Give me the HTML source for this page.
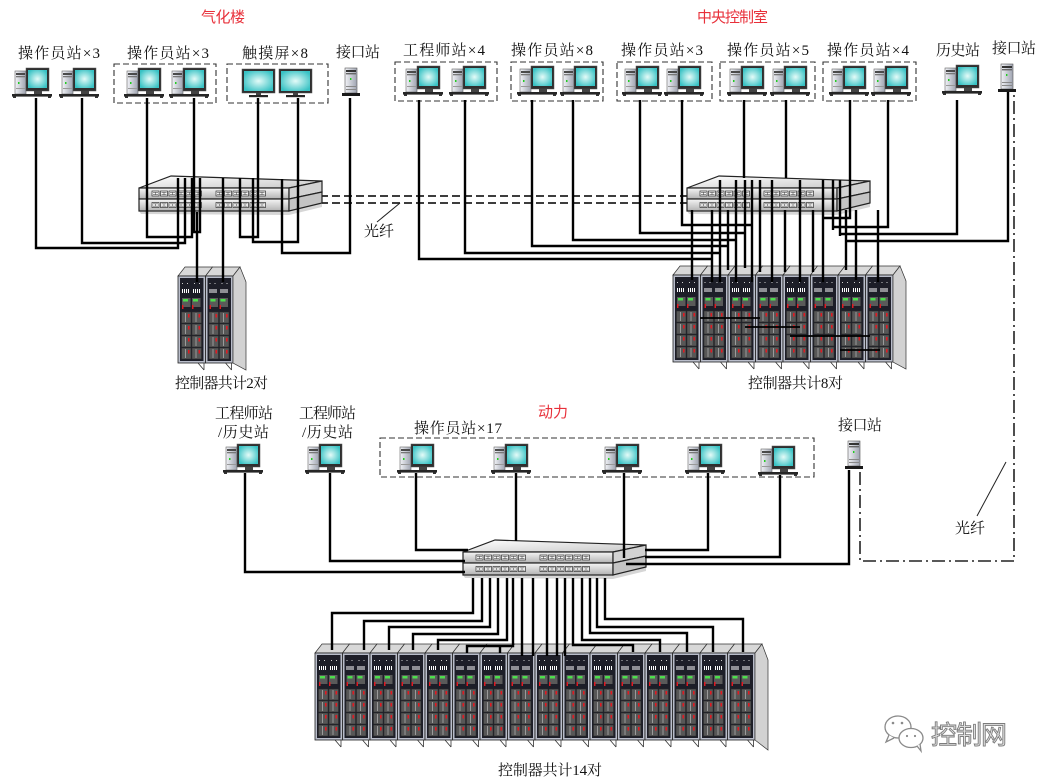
<!DOCTYPE html>
<html><head><meta charset="utf-8"><style>
html,body{margin:0;padding:0;background:#fff;}
svg{display:block;}
.lb{font-family:"Liberation Serif","Noto Serif CJK SC",serif;font-size:15px;fill:#111;}
.rd{font-family:"Liberation Sans","Noto Sans CJK SC",sans-serif;font-size:15px;fill:#e8303a;}
.ln{fill:none;stroke:#000;stroke-width:2.4;}
.db{fill:none;stroke:#333;stroke-width:1.1;stroke-dasharray:6 3;}
</style></head><body>
<svg width="1042" height="780" viewBox="0 0 1042 780" xmlns="http://www.w3.org/2000/svg">
<defs>
<linearGradient id="tw" x1="0" y1="0" x2="1" y2="0"><stop offset="0" stop-color="#f2f3f7"/><stop offset="1" stop-color="#9ea3b0"/></linearGradient>
<radialGradient id="scr" cx="0.5" cy="0.5" r="0.6"><stop offset="0" stop-color="#e4fbf8"/><stop offset="1" stop-color="#38c2c4"/></radialGradient>
<linearGradient id="swf" x1="0" y1="0" x2="0" y2="1"><stop offset="0" stop-color="#f6f6f6"/><stop offset="1" stop-color="#b2b2b2"/></linearGradient>
<linearGradient id="swt" x1="0" y1="0" x2="1" y2="1"><stop offset="0" stop-color="#ffffff"/><stop offset="1" stop-color="#c8c8c8"/></linearGradient>
<g id="pc">
 <rect x="3" y="4" width="11" height="23" fill="url(#tw)" stroke="#666" stroke-width=".6"/>
 <rect x="4" y="6" width="9" height="2" fill="#4a4a4a"/>
 <rect x="4" y="9" width="9" height="1.3" fill="#777"/>
 <rect x="6" y="15" width="1.5" height="2" fill="#2c2"/>
 <rect x="4" y="21" width="9" height="1" fill="#999"/>
 <rect x="14" y="1" width="23" height="23" fill="#2f2f2f" stroke="#555" stroke-width=".5"/>
 <rect x="16" y="3" width="19" height="18" fill="url(#scr)"/>
 <rect x="22" y="24" width="8" height="3" fill="#444"/>
 <rect x="0" y="27" width="40" height="2.6" fill="#262626"/>
 <rect x="1" y="29.5" width="3" height="1.5" fill="#333"/>
 <rect x="36" y="29.5" width="3" height="1.5" fill="#333"/>
</g>
<g id="ts">
 <rect x="0" y="0" width="33" height="24" fill="#2f2f2f" stroke="#555" stroke-width=".5"/>
 <rect x="2" y="2" width="29" height="20" fill="url(#scr)"/>
 <rect x="14" y="24" width="5" height="2" fill="#444"/>
 <rect x="7" y="26" width="19" height="2.2" fill="#262626"/>
</g>
<g id="srv">
 <rect x="3" y="0" width="12" height="25" fill="url(#tw)" stroke="#555" stroke-width=".6"/>
 <rect x="4" y="2" width="10" height="2" fill="#333"/>
 <rect x="4" y="5" width="10" height="1.4" fill="#666"/>
 <rect x="8" y="10" width="1.4" height="2" fill="#2c2"/>
 <rect x="4" y="18" width="10" height="1" fill="#888"/>
 <rect x="4" y="21" width="10" height="1" fill="#888"/>
 <rect x="0" y="25" width="18" height="3" fill="#1a1a1a"/>
</g>
<g id="pt">
 <rect x="0" y="0" width="7" height="5" fill="#f4f4f4" stroke="#333" stroke-width=".7"/>
 <path d="M1,1.3h5M1,3.7h5M3.5,1v3" stroke="#555" stroke-width=".6"/>
</g>
<g id="pts">
 <use href="#pt" x="0"/><use href="#pt" x="8.5"/><use href="#pt" x="17"/><use href="#pt" x="25.5"/><use href="#pt" x="34"/><use href="#pt" x="42.5"/>
</g>
<g id="sw">
 <polygon points="0,23 150,23 183,15 183,19 150,27 2,26" fill="#d6d6d6"/>
 <polygon points="0,0 32,-12 183,-7 150,0" fill="url(#swt)" stroke="#222" stroke-width="1.2"/>
 <rect x="0" y="0" width="150" height="11" fill="url(#swf)" stroke="#222" stroke-width="1.2"/>
 <polygon points="150,0 183,-7 183,4 150,11" fill="#d2d2d2" stroke="#222" stroke-width="1.2"/>
 <rect x="0" y="11" width="150" height="12" fill="url(#swf)" stroke="#222" stroke-width="1.2"/>
 <polygon points="150,11 183,4 183,15 150,23" fill="#c4c4c4" stroke="#222" stroke-width="1.2"/>
 <use href="#pts" x="13" y="3"/><use href="#pts" x="77" y="3"/>
 <use href="#pts" x="13" y="14.5"/><use href="#pts" x="77" y="14.5"/>
</g>
<g id="mod">
 <rect x="0" y="0" width="9.5" height="11" fill="#575757" stroke="#2a2a2a" stroke-width=".5"/>
 <rect x="3.5" y="1" width="1" height="9" fill="#9a9a9a"/>
 <rect x="6.5" y="2" width="1.6" height="3.5" fill="#e01a22"/>
</g>
<g id="cab">
 <polygon points="0,0 7,-9 34.5,-9 27.5,0" fill="#d8d8d8" stroke="#333" stroke-width=".7"/>
 <rect x="0" y="0" width="27.5" height="87" fill="#b9bdca" stroke="#222" stroke-width=".8"/>
 <rect x="2" y="2" width="23.5" height="83" fill="#1d1e28"/>
 <rect x="4" y="7" width="1" height="1" fill="#ccc"/><rect x="9" y="7" width="1" height="1" fill="#ccc"/><rect x="16" y="7" width="1" height="1" fill="#ccc"/><rect x="21" y="7" width="1" height="1" fill="#ccc"/>
 <path d="M4.5,13v4M6.5,13v4M8.5,13v4M10.5,13v4M15.5,13v4M17.5,13v4M19.5,13v4M21.5,13v4" stroke="#fff" stroke-width="1"/>
 <rect x="4" y="22" width="8.5" height="9" fill="#5a5a5a"/>
 <rect x="14" y="22" width="8.5" height="9" fill="#5a5a5a"/>
 <rect x="5" y="23" width="5" height="2.5" fill="#4ddd4d"/>
 <rect x="15" y="23" width="5" height="2.5" fill="#4ddd4d"/>
 <rect x="4" y="29" width="1.5" height="4" fill="#e01a22"/>
 <rect x="14" y="29" width="1.5" height="4" fill="#e01a22"/>
 <use href="#mod" x="3.5" y="36"/><use href="#mod" x="14" y="36"/>
 <use href="#mod" x="3.5" y="48"/><use href="#mod" x="14" y="48"/>
 <use href="#mod" x="3.5" y="60"/><use href="#mod" x="14" y="60"/>
 <use href="#mod" x="3.5" y="72"/><use href="#mod" x="14" y="72"/>
 <path d="M20,87l6,7M26,87v7" stroke="#333" stroke-width=".8" fill="none"/>
</g>
</defs>

<!-- ===== Titles ===== -->
<text class="rd" x="201" y="22" textLength="44">气化楼</text>
<text class="rd" x="697" y="22" textLength="71">中央控制室</text>
<text class="rd" x="538" y="417" textLength="30">动力</text>

<!-- ===== Top labels ===== -->
<text class="lb" x="18" y="58" textLength="82">操作员站×3</text>
<text class="lb" x="127" y="58" textLength="82">操作员站×3</text>
<text class="lb" x="242" y="58" textLength="66">触摸屏×8</text>
<text class="lb" x="336" y="57" textLength="44">接口站</text>
<text class="lb" x="403" y="55" textLength="82">工程师站×4</text>
<text class="lb" x="511" y="55" textLength="82">操作员站×8</text>
<text class="lb" x="621" y="55" textLength="82">操作员站×3</text>
<text class="lb" x="727" y="55" textLength="82">操作员站×5</text>
<text class="lb" x="827" y="55" textLength="82">操作员站×4</text>
<text class="lb" x="936" y="55" textLength="44">历史站</text>
<text class="lb" x="992" y="53" textLength="44">接口站</text>

<!-- dashed boxes top -->
<rect class="db" x="114" y="64" width="102" height="39"/>
<rect class="db" x="227" y="64" width="101" height="39"/>
<rect class="db" x="395" y="62" width="102" height="39"/>
<rect class="db" x="511" y="62" width="92" height="39"/>
<rect class="db" x="617" y="62" width="95" height="39"/>
<rect class="db" x="720" y="62" width="95" height="39"/>
<rect class="db" x="823" y="62" width="93" height="39"/>

<!-- computers top-left -->
<use href="#pc" x="12" y="67"/><use href="#pc" x="59" y="67"/>
<use href="#pc" x="124" y="67"/><use href="#pc" x="169" y="67"/>
<use href="#ts" x="242" y="69"/><use href="#ts" x="279" y="69"/>
<use href="#srv" x="342" y="68"/>
<!-- computers top-right -->
<use href="#pc" x="403" y="65"/><use href="#pc" x="449" y="65"/>
<use href="#pc" x="517" y="65"/><use href="#pc" x="560" y="65"/>
<use href="#pc" x="622" y="65"/><use href="#pc" x="664" y="65"/>
<use href="#pc" x="727" y="65"/><use href="#pc" x="770" y="65"/>
<use href="#pc" x="829" y="65"/><use href="#pc" x="871" y="65"/>
<use href="#pc" x="942" y="64"/>
<use href="#srv" x="998" y="64"/>

<!-- fiber between switches -->
<path d="M320,196H690M320,203H690" fill="none" stroke="#222" stroke-width="1.8" stroke-dasharray="8 4"/>
<path d="M377,222L400,203" stroke="#222" stroke-width="1"/>
<text class="lb" x="364" y="236" textLength="30">光纤</text>

<!-- switches -->
<use href="#sw" x="139" y="188"/>
<use href="#sw" x="687" y="188"/>
<use href="#sw" x="463" y="552"/>

<!-- cabinets left (2) -->
<use href="#cab" x="178" y="276"/><use href="#cab" x="205.5" y="276"/>
<polygon points="233,276 240,267 246,282 246,370 233,363" fill="#d2d2d2" stroke="#333" stroke-width=".7"/>
<text class="lb" x="175" y="388" textLength="93">控制器共计2对</text>

<!-- cabinets right (8) -->
<use href="#cab" x="673" y="275"/><use href="#cab" x="700.5" y="275"/><use href="#cab" x="728" y="275"/><use href="#cab" x="755.5" y="275"/>
<use href="#cab" x="783" y="275"/><use href="#cab" x="810.5" y="275"/><use href="#cab" x="838" y="275"/><use href="#cab" x="865.5" y="275"/>
<polygon points="893,275 900,266 906,281 906,369 893,362" fill="#d2d2d2" stroke="#333" stroke-width=".7"/>
<text class="lb" x="748" y="388" textLength="95">控制器共计8对</text>

<!-- top-left connectors -->
<path class="ln" d="M36,98V248H178V178"/>
<path class="ln" d="M82,98V243H185V178"/>
<path class="ln" d="M147,98V237H192V178"/>
<path class="ln" d="M194,98V232H200V178"/>
<path class="ln" d="M197,212V282"/>
<path class="ln" d="M223,178V282"/>
<path class="ln" d="M258,98V237H240V178"/>
<path class="ln" d="M298,98V242H253V178"/>
<path class="ln" d="M350,98V253H282V179"/>

<!-- top-right connectors -->
<path class="ln" d="M419,100V259H712"/>
<path class="ln" d="M465,100V253H720"/>
<path class="ln" d="M532,100V246H728"/>
<path class="ln" d="M573,100V240H736"/>
<path class="ln" d="M640,100V233H744"/>
<path class="ln" d="M682,100V225H752"/>
<path class="ln" d="M744,100V178"/>
<path class="ln" d="M786,100V178"/>
<path class="ln" d="M850,100V218H823"/>
<path class="ln" d="M888,100V227H833"/>
<path class="ln" d="M957,100V234H840"/>
<path class="ln" d="M1008,92V241H846"/>
<path class="ln" d="M692,210V280M712,210V282M720,180V282M728,210V270M736,180V282M745,180V268M752,180V282M760,180V272M772,180V282M785,210V272M800,180V282M813,210V272M823,180V282M833,180V230M840,180V236M846,210V270M856,210V280M878,210V282"/>
<path d="M700,318H760M745,327H800M790,336H870M840,350H880" stroke="#000" stroke-width="1.8" fill="none"/>

<!-- ===== Bottom section ===== -->
<text class="lb" x="215" y="418" textLength="58">工程师站</text>
<text class="lb" x="218" y="437" textLength="51">/历史站</text>
<text class="lb" x="299" y="418" textLength="57">工程师站</text>
<text class="lb" x="302" y="437" textLength="51">/历史站</text>
<text class="lb" x="414" y="433" textLength="88">操作员站×17</text>
<text class="lb" x="838" y="430" textLength="44">接口站</text>
<rect class="db" x="380" y="438" width="434" height="39"/>

<use href="#pc" x="223" y="443"/><use href="#pc" x="305" y="443"/>
<use href="#pc" x="397" y="443"/><use href="#pc" x="491" y="443"/>
<use href="#pc" x="602" y="443"/><use href="#pc" x="685" y="443"/>
<use href="#pc" x="758" y="445"/>
<use href="#srv" x="845" y="441"/>

<!-- fiber dash-dot -->
<path d="M860,472V561H1014V95" fill="none" stroke="#222" stroke-width="1.6" stroke-dasharray="13 4 2 4"/>
<path d="M1006,462L977,516" stroke="#222" stroke-width="1"/>
<text class="lb" x="955" y="533" textLength="30">光纤</text>

<!-- cabinets bottom (16) -->
<use href="#cab" x="315" y="653"/><use href="#cab" x="342.5" y="653"/><use href="#cab" x="370" y="653"/><use href="#cab" x="397.5" y="653"/>
<use href="#cab" x="425" y="653"/><use href="#cab" x="452.5" y="653"/><use href="#cab" x="480" y="653"/><use href="#cab" x="507.5" y="653"/>
<use href="#cab" x="535" y="653"/><use href="#cab" x="562.5" y="653"/><use href="#cab" x="590" y="653"/><use href="#cab" x="617.5" y="653"/>
<use href="#cab" x="645" y="653"/><use href="#cab" x="672.5" y="653"/><use href="#cab" x="700" y="653"/><use href="#cab" x="727.5" y="653"/>
<polygon points="755,653 762,644 768,660 768,750 755,740" fill="#d2d2d2" stroke="#333" stroke-width=".7"/>
<text class="lb" x="498" y="775" textLength="104">控制器共计14对</text>

<!-- bottom connectors -->
<path class="ln" d="M245,473V572H465"/>
<path class="ln" d="M330,473V561H465"/>
<path class="ln" d="M416,473V550H468"/>
<path class="ln" d="M516,473V541"/>
<path class="ln" d="M624,473V558"/>
<path class="ln" d="M708,473V550H645"/>
<path class="ln" d="M780,475V557H645"/>
<path class="ln" d="M849,470V564H626"/>

<path class="ln" d="M473,578V613H332V650"/>
<path class="ln" d="M482,578V621H364V650"/>
<path class="ln" d="M490,578V627H389V650"/>
<path class="ln" d="M498,578V634H413V650"/>
<path class="ln" d="M507,578V640H438V650"/>
<path class="ln" d="M513,578V646H467V653M500,646V653"/>
<path class="ln" d="M522,578V656M533,578V656M547,578V656M557,578V656M565,578V656"/>
<path class="ln" d="M573,578V645H633V652"/>
<path class="ln" d="M582,578V640H660V652"/>
<path class="ln" d="M590,578V633H687V652"/>
<path class="ln" d="M597,578V627H713V652"/>
<path class="ln" d="M605,578V619H743V652"/>

<!-- watermark -->
<g fill="#fff" stroke="#8a8a8a" stroke-width="1.3">
 <ellipse cx="898" cy="727" rx="13" ry="11"/>
 <path d="M889,735l-3,7l8,-4"/>
 <ellipse cx="911" cy="738" rx="12" ry="9.5"/>
 <path d="M917,746l4,5l-1,-7"/>
</g>
<g fill="#8a8a8a"><circle cx="893" cy="723" r="1.3"/><circle cx="902" cy="723" r="1.3"/><circle cx="907" cy="736" r="1.1"/><circle cx="915" cy="736" r="1.1"/></g>
<text x="931" y="744" textLength="76" style="font-family:'Liberation Sans','Noto Sans CJK SC',sans-serif;font-size:26px;fill:#e4e4e4;stroke:#7c7c7c;stroke-width:0.9;">控制网</text>
</svg>
</body></html>
